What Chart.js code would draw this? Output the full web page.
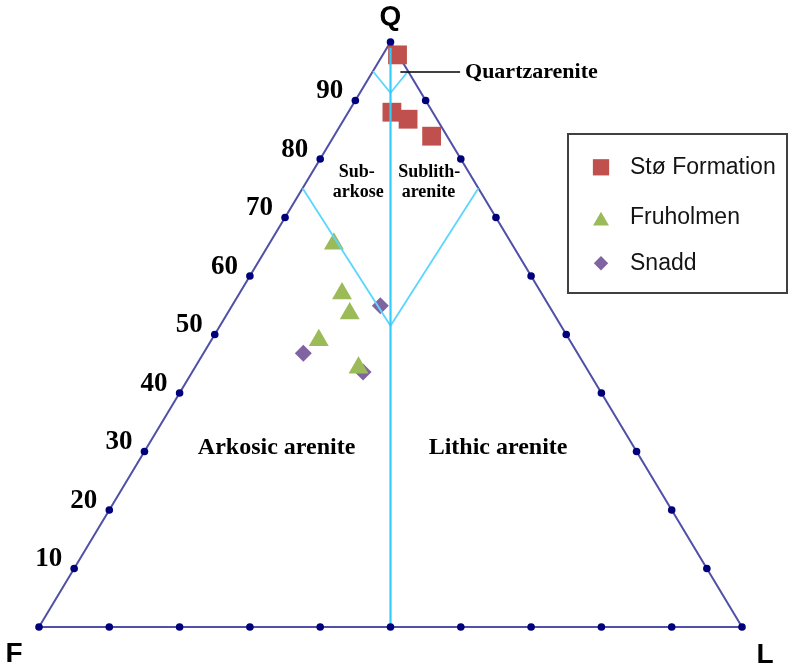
<!DOCTYPE html>
<html>
<head>
<meta charset="utf-8">
<title>QFL diagram</title>
<script src="https://cdn.jsdelivr.net/npm/chart.js@4.4.1/dist/chart.umd.min.js"></script>
<style>
  html, body { margin: 0; padding: 0; background: #ffffff; }
  #wrap { width: 792px; height: 669px; }
</style>
</head>
<body>
<div id="wrap"><canvas id="qfl" width="792" height="669"></canvas></div>
<script>
// QFL sandstone classification: Q = quartz, F = feldspar, L = lithic fragments (percent)
const seriesNames = ['Stø Formation', 'Fruholmen', 'Snadd'];

const stoQ = [97.8, 88.0, 86.8, 83.9];
const stoF = [0.1, 5.8, 4.1, 2.2];
const stoL = [2.1, 6.2, 9.1, 13.9];

const fruQ = [65.5, 57.0, 53.6, 49.0, 44.3];
const fruF = [25.3, 28.4, 29.0, 35.7, 32.4];
const fruL = [9.2, 14.6, 17.4, 15.3, 23.3];

const snaQ = [54.9, 46.8, 43.6];
const snaF = [24.0, 39.0, 32.1];
const snaL = [21.1, 14.2, 24.3];

// graduation along each side of the triangle
const tickValues = [10, 20, 30, 40, 50, 60, 70, 80, 90];

// field boundaries (Q percent where each boundary meets the sides / the F=L line)
const quartzareniteSideQ = 95, quartzareniteMidQ = 91.3;
const subarkoseSideQ = 75, subarkoseMidQ = 51.5;
const splitTopQ = 99;

const cornerNames = ['Q', 'F', 'L'];

// ternary (Q, F, L) -> cartesian with F at (0,0), L at (100,0), Q at (50,100)
function tern(q, f, l) {
  const s = q + f + l;
  const qq = q / s, ll = l / s;
  return { x: (ll + qq / 2) * 100, y: qq * 100 };
}
function series(Q, F, L) { return Q.map((q, i) => tern(q, F[i], L[i])); }

const outline = [tern(0, 100, 0), tern(0, 0, 100), tern(100, 0, 0), tern(0, 100, 0)];

const tickDots = [tern(100, 0, 0), tern(0, 100, 0), tern(0, 0, 100)];
tickValues.forEach(v => {
  tickDots.push(tern(v, 100 - v, 0));   // F–Q side
  tickDots.push(tern(v, 0, 100 - v));   // L–Q side
  tickDots.push(tern(0, 100 - v, v));   // F–L base
});

const splitLine = [tern(0, 50, 50), tern(splitTopQ, (100 - splitTopQ) / 2, (100 - splitTopQ) / 2)];
const quartzV = [
  tern(quartzareniteSideQ, 100 - quartzareniteSideQ, 0),
  tern(quartzareniteMidQ, (100 - quartzareniteMidQ) / 2, (100 - quartzareniteMidQ) / 2),
  tern(quartzareniteSideQ, 0, 100 - quartzareniteSideQ)
];
const subV = [
  tern(subarkoseSideQ, 100 - subarkoseSideQ, 0),
  tern(subarkoseMidQ, (100 - subarkoseMidQ) / 2, (100 - subarkoseMidQ) / 2),
  tern(subarkoseSideQ, 0, 100 - subarkoseSideQ)
];

const colors = { sto: '#c0504d', fru: '#9bbb59', sna: '#8064a2' };
const SERIF = '"Liberation Serif", "Times New Roman", serif';
const SANS = '"Liberation Sans", Arial, sans-serif';

function lineSet(data, color, width, order) {
  return { data, showLine: true, borderColor: color, borderWidth: width, pointRadius: 0,
           pointHoverRadius: 0, fill: false, tension: 0, clip: false, order };
}
function markerSet(label, data, color, style, radius, order) {
  return { label, data, pointStyle: style, pointRadius: radius, pointHoverRadius: radius,
           backgroundColor: color, borderColor: color, borderWidth: 0, showLine: false, clip: false, order };
}

// text, leader line and legend drawn over the plot
const qflText = {
  id: 'qflText',
  afterDatasetsDraw(chart) {
    const c = chart.ctx;
    const sx = chart.scales.x, sy = chart.scales.y;
    const pix = p => ({ x: sx.getPixelForValue(p.x), y: sy.getPixelForValue(p.y) });
    const at = (q, f, l) => pix(tern(q, f, l));
    c.save();
    c.fillStyle = '#000000';
    c.textBaseline = 'middle';

    // graduation numbers along the F–Q side
    c.font = 'bold 27px ' + SERIF;
    c.textAlign = 'right';
    tickValues.forEach(v => {
      const p = at(v, 100 - v, 0);
      c.fillText(String(v), p.x - 12, p.y - 9);
    });

    // corner letters
    c.font = 'bold 28px ' + SANS;
    c.textAlign = 'center';
    const pq = at(100, 0, 0), pf = at(0, 100, 0), pl = at(0, 0, 100);
    c.fillText(cornerNames[0], pq.x, pq.y - 25);
    c.fillText(cornerNames[1], pf.x - 25, pf.y + 27);
    c.fillText(cornerNames[2], pl.x + 23, pl.y + 28);

    // field names
    c.font = 'bold 24px ' + SERIF;
    let p = pix({ x: 33.8, y: 30.55 });
    c.fillText('Arkosic arenite', p.x, p.y);
    p = pix({ x: 65.3, y: 30.55 });
    c.fillText('Lithic arenite', p.x, p.y);

    c.font = 'bold 18px ' + SERIF;
    p = pix({ x: 45.2, y: 77.8 }); c.fillText('Sub-', p.x, p.y);
    p = pix({ x: 45.4, y: 74.3 }); c.fillText('arkose', p.x, p.y);
    p = pix({ x: 55.5, y: 77.8 }); c.fillText('Sublith-', p.x, p.y);
    p = pix({ x: 55.4, y: 74.3 }); c.fillText('arenite', p.x, p.y);

    // quartzarenite label with leader
    const a = pix({ x: 51.4, y: 94.87 }), b = pix({ x: 59.9, y: 94.87 });
    c.strokeStyle = '#000000';
    c.lineWidth = 1.5;
    c.beginPath(); c.moveTo(a.x, a.y); c.lineTo(b.x, b.y); c.stroke();
    c.font = 'bold 22px ' + SERIF;
    c.textAlign = 'left';
    p = pix({ x: 60.6, y: 94.87 });
    c.fillText('Quartzarenite', p.x, p.y);

    // legend box
    c.lineWidth = 2;
    c.strokeStyle = '#404040';
    c.strokeRect(568, 134, 219, 159);
    const items = [
      { name: seriesNames[0], color: colors.sto, style: 'rect', r: 11.5, y: 167.3 },
      { name: seriesNames[1], color: colors.fru, style: 'triangle', r: 9.2, y: 218 },
      { name: seriesNames[2], color: colors.sna, style: 'rectRot', r: 7.2, y: 263.3 }
    ];
    c.font = '23px ' + SANS;
    c.textAlign = 'left';
    items.forEach(it => {
      c.fillStyle = it.color;
      c.strokeStyle = it.color;
      Chart.helpers.drawPoint(c, { pointStyle: it.style, radius: it.r, rotation: 0, borderWidth: 0 },
                              601, it.style === 'triangle' ? it.y + 3 : it.y);
      c.fillStyle = '#141414';
      c.fillText(it.name, 630, it.y);
    });
    c.restore();
  }
};

new Chart(document.getElementById('qfl'), {
  type: 'scatter',
  data: {
    datasets: [
      { data: tickDots, pointRadius: 3.8, pointHoverRadius: 3.8, pointStyle: 'circle',
        backgroundColor: '#00007a', borderWidth: 0, showLine: false, clip: false, order: 0 },
      lineSet(splitLine, '#33ccff', 2.2, 1),
      lineSet(quartzV, '#5cd6ff', 1.8, 1),
      lineSet(subV, '#5cd6ff', 1.8, 1),
      markerSet(seriesNames[0], series(stoQ, stoF, stoL), colors.sto, 'rect', 13.3, 2),
      markerSet(seriesNames[1], series(fruQ, fruF, fruL), colors.fru, 'triangle', 11.5, 2),
      markerSet(seriesNames[2], series(snaQ, snaF, snaL), colors.sna, 'rectRot', 8.5, 2),
      lineSet(outline, '#5050a8', 2, 3)
    ]
  },
  options: {
    responsive: false,
    animation: false,
    devicePixelRatio: 1,
    events: [],
    layout: { padding: { left: 39, right: 50, top: 42, bottom: 42 }, autoPadding: false },
    scales: {
      x: { type: 'linear', min: 0, max: 100, display: false },
      y: { type: 'linear', min: 0, max: 100, display: false }
    },
    plugins: { legend: { display: false }, tooltip: { enabled: false } }
  },
  plugins: [qflText]
});
</script>
</body>
</html>
